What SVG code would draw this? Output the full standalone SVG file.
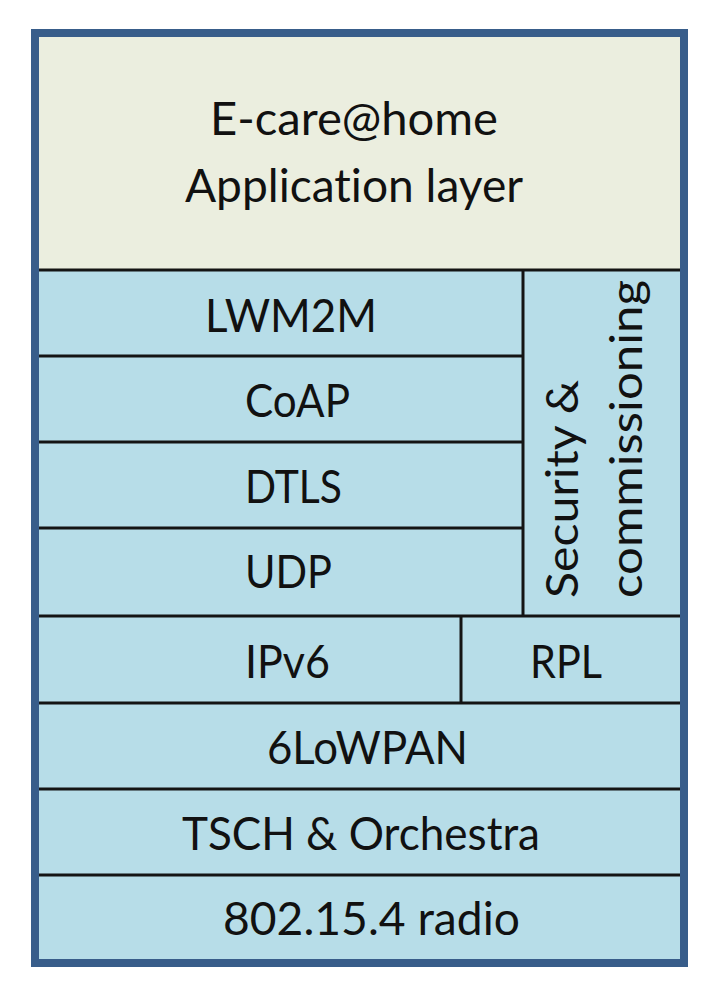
<svg xmlns="http://www.w3.org/2000/svg" width="710" height="1000" viewBox="0 0 710 1000">
<style>
.t{font-family:Lato,"Liberation Sans",sans-serif;font-size:46px;fill:#111;font-variant-ligatures:none;}
.r{font-family:Lato,"Liberation Sans",sans-serif;font-size:45px;fill:#111;font-variant-ligatures:none;}
.ln{stroke:#141414;stroke-width:3;fill:none;}
</style>
<rect width="710" height="1000" fill="#ffffff"/>
<g id="app"><rect x="39" y="37" width="641" height="233" fill="#ebeedf"/>
<text class="t" x="210" y="135" textLength="288" lengthAdjust="spacingAndGlyphs">E-care@home</text>
<text class="t" x="185" y="202" textLength="338" lengthAdjust="spacingAndGlyphs">Application layer</text></g>
<rect x="39" y="270" width="641" height="689" fill="#b7dde8"/>
<g id="lwm2m"><text class="t" x="205" y="332" textLength="172" lengthAdjust="spacingAndGlyphs">LWM2M</text></g>
<g id="coap"><text class="t" x="245" y="417" textLength="105" lengthAdjust="spacingAndGlyphs">CoAP</text></g>
<g id="dtls"><text class="t" x="245" y="503" textLength="97" lengthAdjust="spacingAndGlyphs">DTLS</text></g>
<g id="udp"><text class="t" x="245" y="588" textLength="87" lengthAdjust="spacingAndGlyphs">UDP</text></g>
<g id="security"><text class="r" transform="translate(578 598) rotate(-90)" textLength="218" lengthAdjust="spacingAndGlyphs">Security &amp;</text>
<text class="r" transform="translate(642 598) rotate(-90)" textLength="318" lengthAdjust="spacingAndGlyphs">commissioning</text></g>
<g id="ipv6"><text class="t" x="245" y="678" textLength="85" lengthAdjust="spacingAndGlyphs">IPv6</text></g>
<g id="rpl"><text class="t" x="530" y="678" textLength="72" lengthAdjust="spacingAndGlyphs">RPL</text></g>
<g id="sixlowpan"><text class="t" x="267" y="764" textLength="201" lengthAdjust="spacingAndGlyphs">6LoWPAN</text></g>
<g id="tsch"><text class="t" x="182" y="850" textLength="358" lengthAdjust="spacingAndGlyphs">TSCH &amp; Orchestra</text></g>
<g id="radio"><text class="t" x="223" y="935" textLength="297" lengthAdjust="spacingAndGlyphs">802.15.4 radio</text></g>
<g id="connectors">
<line class="ln" x1="39" y1="270" x2="680" y2="270"/>
<line class="ln" x1="39" y1="356" x2="523" y2="356"/>
<line class="ln" x1="39" y1="442" x2="523" y2="442"/>
<line class="ln" x1="39" y1="528" x2="523" y2="528"/>
<line class="ln" x1="39" y1="616" x2="680" y2="616"/>
<line class="ln" x1="39" y1="703" x2="680" y2="703"/>
<line class="ln" x1="39" y1="789" x2="680" y2="789"/>
<line class="ln" x1="39" y1="875" x2="680" y2="875"/>
<line class="ln" x1="523" y1="270" x2="523" y2="616"/>
<line class="ln" x1="461" y1="616" x2="461" y2="703"/>
</g>
<rect x="35" y="33" width="649" height="930" fill="none" stroke="#385d8a" stroke-width="8"/>
</svg>
